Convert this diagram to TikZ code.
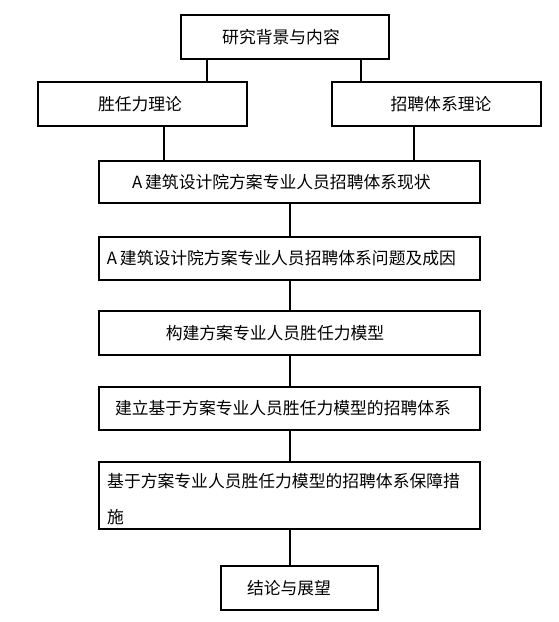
\documentclass[tikz,border=0pt]{standalone}
\usepackage{fontspec}
\setmainfont{Noto Sans CJK SC}
\begin{document}
\begin{tikzpicture}[x=1pt,y=-1pt,
  box/.style={draw=black,line width=2pt,rectangle,inner sep=0pt,fill=white},
  lbl/.style={inner sep=0pt,font=\fontsize{16.8}{36}\selectfont},
  link/.style={draw=black,line width=2pt}]
\useasboundingbox[fill=white] (0,0) rectangle (558,622);
% boxes
\node[box,minimum width=208pt,minimum height=44pt] (b1) at (285,37) {};
\node[box,minimum width=209pt,minimum height=44pt] (b2) at (142.5,104) {};
\node[box,minimum width=209pt,minimum height=44pt] (b3) at (436.5,104) {};
\node[box,minimum width=381pt,minimum height=42pt] (b4) at (289.5,182) {};
\node[box,minimum width=381pt,minimum height=43pt] (b5) at (289.5,258.5) {};
\node[box,minimum width=381pt,minimum height=44pt] (b6) at (289.5,333) {};
\node[box,minimum width=381pt,minimum height=43pt] (b7) at (289.5,408.5) {};
\node[box,minimum width=381pt,minimum height=67pt] (b8) at (289.5,495.5) {};
\node[box,minimum width=157pt,minimum height=44pt] (b9) at (299.5,588) {};
% connector columns
\coordinate (cA) at (207,0);
\coordinate (cB) at (361,0);
\coordinate (cC) at (164,0);
\coordinate (cD) at (414,0);
\coordinate (cM) at (290,0);
\draw[link] (b1.south -| cA) -- (b2.north -| cA);
\draw[link] (b1.south -| cB) -- (b3.north -| cB);
\draw[link] (b2.south -| cC) -- (b4.north -| cC);
\draw[link] (b3.south -| cD) -- (b4.north -| cD);
\draw[link] (b4.south -| cM) -- (b5.north -| cM);
\draw[link] (b5.south -| cM) -- (b6.north -| cM);
\draw[link] (b6.south -| cM) -- (b7.north -| cM);
\draw[link] (b7.south -| cM) -- (b8.north -| cM);
\draw[link] (b8.south -| cM) -- (b9.north -| cM);
% labels
\node[lbl] (t1) at (281,37) {研究背景与内容};
\node[lbl] (t2) at (140,104) {胜任力理论};
\node[lbl] (t3) at (441,104) {招聘体系理论};
\node[lbl] (t4) at (281.5,182) {A\,建筑设计院方案专业人员招聘体系现状};
\node[lbl] (t5) at (281.5,258.5) {A\,建筑设计院方案专业人员招聘体系问题及成因};
\node[lbl] (t6) at (275,333) {构建方案专业人员胜任力模型};
\node[lbl] (t7) at (283,408.5) {建立基于方案专业人员胜任力模型的招聘体系};
\node[lbl,anchor=west,align=left] (t8) at (107,499) {基于方案专业人员胜任力模型的招聘体系保障措\\施};
\node[lbl] (t9) at (289,588) {结论与展望};
\end{tikzpicture}
\end{document}
